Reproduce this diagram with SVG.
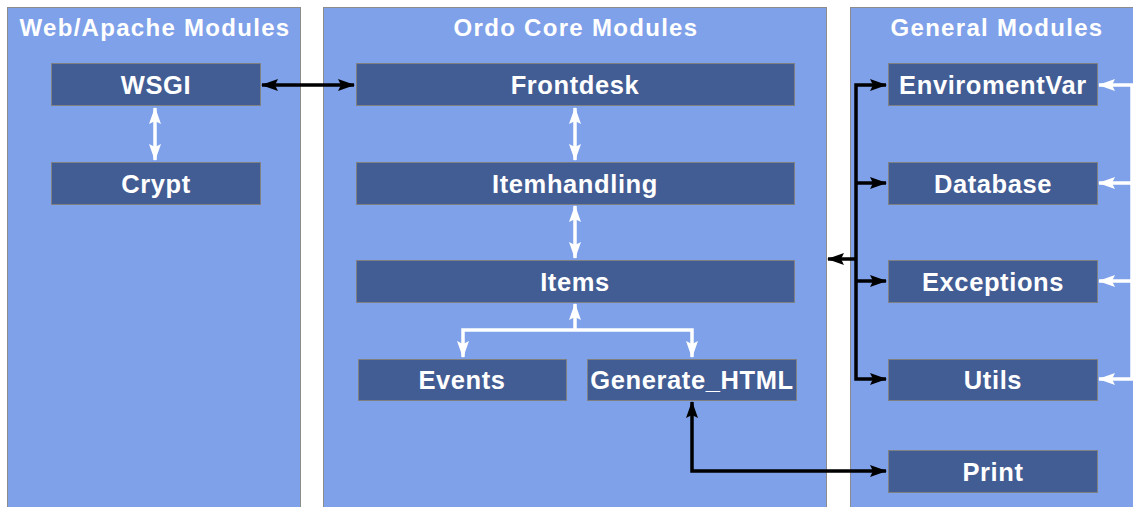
<svg xmlns="http://www.w3.org/2000/svg" width="1133" height="507" viewBox="0 0 1133 507">
<style>
.panel{fill:#7FA1E9;stroke:#8C8C8C;stroke-width:1}
.node rect{fill:#425C94;stroke:#808080;stroke-width:1}
.title{font-family:"Liberation Sans",Arial,sans-serif;font-weight:bold;font-size:24px;letter-spacing:1.3px;fill:#FFFFFF;text-anchor:middle}
.label{font-family:"Liberation Sans",Arial,sans-serif;font-weight:bold;font-size:25.5px;letter-spacing:0.6px;fill:#FFFFFF;text-anchor:middle}
.blk{fill:none;stroke:#000000;stroke-width:3.5}
.wht{fill:none;stroke:#FFFFFF;stroke-width:3.5}
</style>
<defs>
<marker id="ab" markerUnits="userSpaceOnUse" viewBox="0 0 17 12" refX="16" refY="6" markerWidth="17" markerHeight="12" orient="auto-start-reverse"><path d="M0,0 L17,6 L0,12 L3,6 z" fill="#000000"/></marker>
<marker id="aw" markerUnits="userSpaceOnUse" viewBox="0 0 17 12" refX="16" refY="6" markerWidth="17" markerHeight="12" orient="auto-start-reverse"><path d="M0,0 L17,6 L0,12 L3,6 z" fill="#FFFFFF"/></marker>
</defs>
<rect width="1133" height="507" fill="#FFFFFF"/>
<g id="panel-web"><rect class="panel" x="7.5" y="7.5" width="293" height="510"/><text class="title" x="155" y="36">Web/Apache Modules</text></g>
<g id="panel-core"><rect class="panel" x="323.5" y="7.5" width="503" height="510"/><text class="title" x="576" y="36">Ordo Core Modules</text></g>
<g id="panel-general"><rect class="panel" x="850.5" y="7.5" width="300" height="510"/><text class="title" x="997" y="36">General Modules</text></g>
<g id="connectors">
<path class="blk" d="M262,85 H354" marker-start="url(#ab)" marker-end="url(#ab)"/>
<path class="wht" d="M155,108 V160" marker-start="url(#aw)" marker-end="url(#aw)"/>
<path class="wht" d="M575,108 V160" marker-start="url(#aw)" marker-end="url(#aw)"/>
<path class="wht" d="M575,206 V258" marker-start="url(#aw)" marker-end="url(#aw)"/>
<path class="wht" d="M575,330 V304" marker-end="url(#aw)"/>
<path class="wht" d="M463,357 V330 H692 V357" marker-start="url(#aw)" marker-end="url(#aw)"/>
<path class="blk" d="M886,85 H856 V379 H886" marker-start="url(#ab)" marker-end="url(#ab)"/>
<path class="blk" d="M856,183 H886" marker-end="url(#ab)"/>
<path class="blk" d="M856,281 H886" marker-end="url(#ab)"/>
<path class="blk" d="M856,259 H828" marker-end="url(#ab)"/>
<path class="blk" d="M692,402 V471 H886" marker-start="url(#ab)" marker-end="url(#ab)"/>
<path class="wht" d="M1099,85 H1132 V379 H1099" marker-start="url(#aw)" marker-end="url(#aw)"/>
<path class="wht" d="M1132,183 H1099" marker-end="url(#aw)"/>
<path class="wht" d="M1132,281 H1099" marker-end="url(#aw)"/>
</g>
<g id="wsgi" class="node"><rect x="51.5" y="63.5" width="209" height="42"/><text class="label" x="156" y="94">WSGI</text></g>
<g id="crypt" class="node"><rect x="51.5" y="162.5" width="209" height="42"/><text class="label" x="156" y="193">Crypt</text></g>
<g id="frontdesk" class="node"><rect x="356.5" y="63.5" width="438" height="42"/><text class="label" x="575" y="94">Frontdesk</text></g>
<g id="itemhandling" class="node"><rect x="356.5" y="162.5" width="438" height="42"/><text class="label" x="575" y="193">Itemhandling</text></g>
<g id="items" class="node"><rect x="356.5" y="260.5" width="438" height="42"/><text class="label" x="575" y="291">Items</text></g>
<g id="events" class="node"><rect x="358.5" y="359.5" width="208" height="41"/><text class="label" x="462" y="389">Events</text></g>
<g id="generate_html" class="node"><rect x="587.5" y="359.5" width="209" height="41"/><text class="label" x="692" y="389">Generate_HTML</text></g>
<g id="enviromentvar" class="node"><rect x="888.5" y="63.5" width="209" height="42"/><text class="label" x="993" y="94">EnviromentVar</text></g>
<g id="database" class="node"><rect x="888.5" y="162.5" width="209" height="42"/><text class="label" x="993" y="193">Database</text></g>
<g id="exceptions" class="node"><rect x="888.5" y="260.5" width="209" height="42"/><text class="label" x="993" y="291">Exceptions</text></g>
<g id="utils" class="node"><rect x="888.5" y="359.5" width="209" height="41"/><text class="label" x="993" y="389">Utils</text></g>
<g id="print" class="node"><rect x="888.5" y="450.5" width="209" height="42"/><text class="label" x="993" y="481">Print</text></g>
</svg>
